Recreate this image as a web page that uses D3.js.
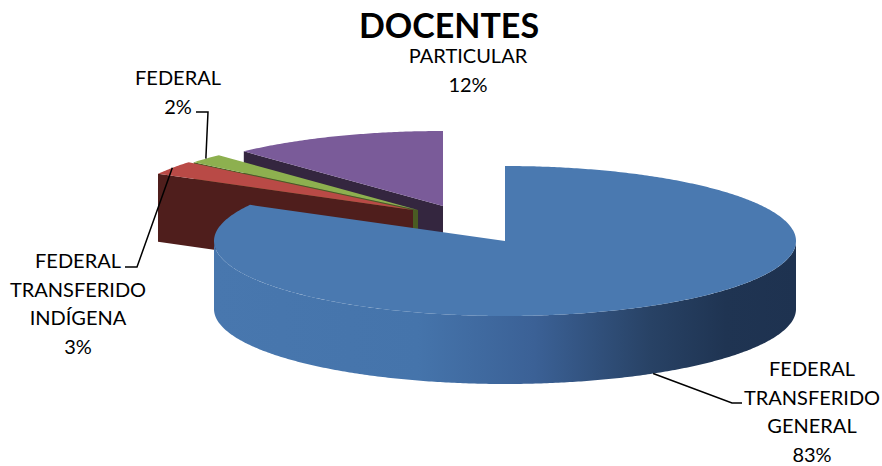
<!DOCTYPE html>
<html>
<head>
<meta charset="utf-8">
<script src="https://cdn.jsdelivr.net/npm/d3@7"></script>
<style>
  html, body { margin: 0; padding: 0; background: #ffffff; }
  svg { display: block; }
  text { font-family: Lato, "Open Sans", sans-serif; fill: #000; }
</style>
</head>
<body>
<div id="chart"></div>
<script>
// ---------------- data ----------------
const title = "DOCENTES";
const categories = ["FEDERAL TRANSFERIDO GENERAL", "FEDERAL TRANSFERIDO INDÍGENA", "FEDERAL", "PARTICULAR"];
const values = [83, 3, 2, 12];
const labelLines = [["FEDERAL", "TRANSFERIDO", "GENERAL"], ["FEDERAL", "TRANSFERIDO", "INDÍGENA"], ["FEDERAL"], ["PARTICULAR"]];

// ---------------- layout / style ----------------
const W = 882, H = 466;
const cx = 505, cy = 241, rx = 291, ry = 75, depth = 68;
// explosion displacement of each slice (screen px)
const explode = [[0, 0], [-92, -31], [-87, -31], [-62, -35]];
const topColors = ["#4A79B0", "#B94A46", "#8DB04F", "#7A5B99"];
const sideColors = ["#1F3452", "#4F1E1C", "#4A5B23", "#34263F"];
// label blocks: anchor x, first baseline, leader route
const labelPos = [
  { x: 812, y: 376, leader: "bottom", knee: [[732, 403], [742, 403]] },
  { x: 78, y: 268, leader: "top", knee: [[137, 267], [125, 267]] },
  { x: 178, y: 85, leader: "top", knee: [[208, 112], [196, 112]] },
  { x: 468, y: 63, leader: null, knee: [] }
];
const lineH = 28.5;

const svg = d3.select("#chart").append("svg").attr("width", W).attr("height", H);
svg.append("rect").attr("width", W).attr("height", H).attr("fill", "#fff");

const defs = svg.append("defs");
const grad = defs.append("linearGradient").attr("id", "blueSide")
  .attr("gradientUnits", "userSpaceOnUse")
  .attr("x1", cx - rx).attr("x2", cx + rx).attr("y1", 0).attr("y2", 0);
[[0, "#4877AE"], [0.35, "#4574AB"], [0.55, "#3B6196"], [0.75, "#284265"], [0.88, "#1F3452"], [1, "#1E3250"]]
  .forEach(([o, c]) => grad.append("stop").attr("offset", o).attr("stop-color", c));

const pie = d3.pie().sort(null).value(d => d);
const arcs = pie(values);

function P(i, a, z) {
  return [cx + explode[i][0] + rx * Math.sin(a), cy + explode[i][1] - ry * Math.cos(a) + z];
}
function arcPts(i, a0, a1, z) {
  const n = Math.max(2, Math.ceil(Math.abs(a1 - a0) / 0.01));
  return d3.range(n + 1).map(k => P(i, a0 + (a1 - a0) * k / n, z));
}
const line = d3.line();

const g = svg.append("g");
// draw order: back to front
const order = d3.range(values.length).sort((a, b) => {
  const ma = (arcs[a].startAngle + arcs[a].endAngle) / 2, mb = (arcs[b].startAngle + arcs[b].endAngle) / 2;
  return P(a, ma, 0)[1] - P(b, mb, 0)[1];
});

order.forEach(i => {
  const a0 = arcs[i].startAngle, a1 = arcs[i].endAngle;
  const apexT = [cx + explode[i][0], cy + explode[i][1]];
  const apexB = [apexT[0], apexT[1] + depth];
  const sg = g.append("g").attr("class", "slice");
  // radial faces (only front-facing ones)
  const radial = (a) => [apexT, P(i, a, 0), P(i, a, depth), apexB];
  if (Math.sin(a0) < -1e-6) sg.append("path").attr("d", line(radial(a0)) + "Z").attr("fill", sideColors[i]);
  if (Math.sin(a1) > 1e-6) sg.append("path").attr("d", line(radial(a1)) + "Z").attr("fill", sideColors[i]);
  // outer wall (front half)
  const w0 = Math.max(a0, Math.PI / 2), w1 = Math.min(a1, 3 * Math.PI / 2);
  if (w1 > w0) {
    const pts = arcPts(i, w0, w1, 0).concat(arcPts(i, w1, w0, depth));
    sg.append("path").attr("d", line(pts) + "Z")
      .attr("fill", i === 0 ? "url(#blueSide)" : sideColors[i]);
  }
  // top face
  const topPts = [apexT].concat(arcPts(i, a0, a1, 0));
  sg.append("path").attr("d", line(topPts) + "Z").attr("fill", topColors[i]);
});

// title
svg.append("text").attr("x", 449).attr("y", 38).attr("text-anchor", "middle")
  .style("font-size", "34px").style("font-weight", "bold").text(title);

// labels
const total = d3.sum(values);
const pct = d3.format(".0%");
labelPos.forEach((lp, i) => {
  const lines = labelLines[i].concat([pct(values[i] / total)]);
  const t = svg.append("text").attr("text-anchor", "middle").style("font-size", "20px");
  lines.forEach((s, k) => t.append("tspan").attr("x", lp.x).attr("y", lp.y + k * lineH).text(s));
  if (lp.leader) {
    const mid = (arcs[i].startAngle + arcs[i].endAngle) / 2;
    const start = P(i, mid, lp.leader === "bottom" ? depth : 0);
    const pts = [start].concat(lp.knee);
    svg.append("path").attr("d", line(pts)).attr("fill", "none")
      .attr("stroke", "#000").attr("stroke-width", 1.5);
  }
});
</script>
</body>
</html>
